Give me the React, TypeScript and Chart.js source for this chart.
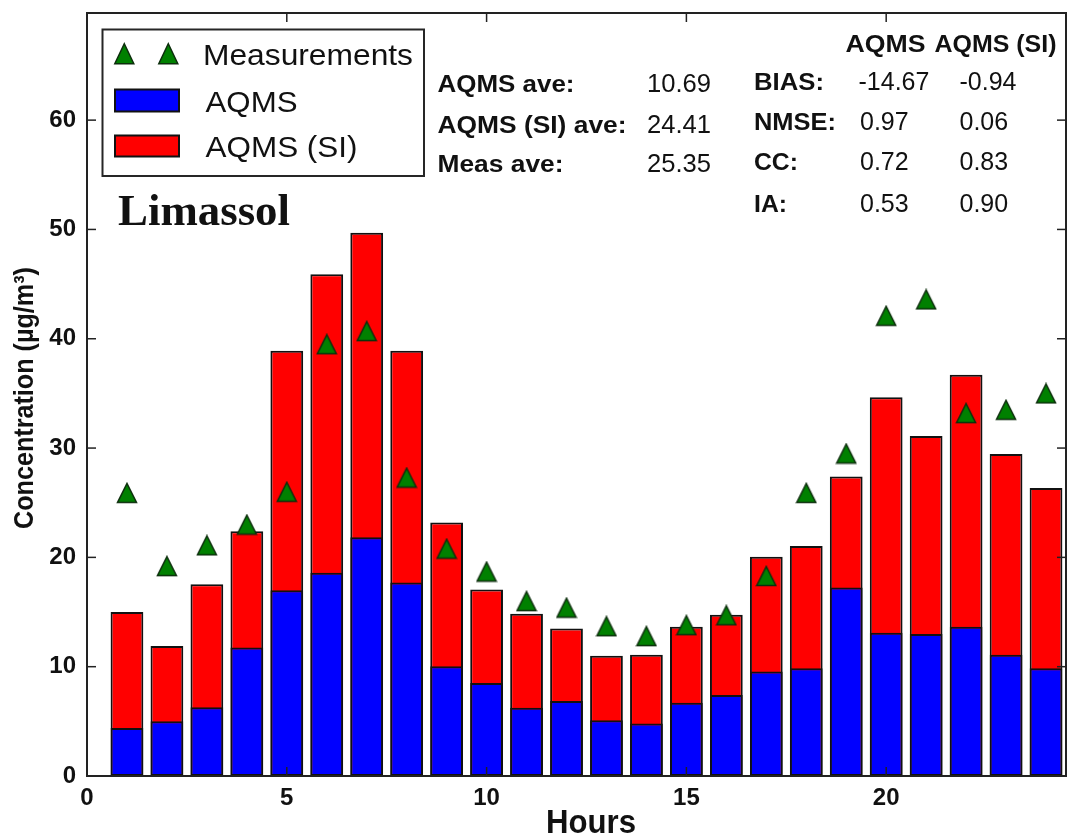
import React, { useEffect, useRef } from "react";
import { Chart, registerables } from "chart.js";

Chart.register(...registerables);

// ---- data ----
const hours = [1, 2, 3, 4, 5, 6, 7, 8, 9, 10, 11, 12, 13, 14, 15, 16, 17, 18, 19, 20, 21, 22, 23, 24];
const aqms = [4.4, 5.0, 6.3, 11.75, 17.0, 18.6, 21.85, 17.7, 10.05, 8.5, 6.25, 6.85, 5.1, 4.8, 6.7, 7.4, 9.55, 9.85, 17.25, 13.1, 13.0, 13.65, 11.1, 9.85];
const aqmsSI = [15.0, 11.9, 17.55, 22.4, 38.9, 45.9, 49.7, 38.9, 23.2, 17.05, 14.85, 13.5, 11.0, 11.1, 13.65, 14.75, 20.05, 21.05, 27.4, 34.65, 31.1, 36.7, 29.45, 26.35];
const measurements = [25.9, 19.2, 21.1, 23.0, 26.0, 39.5, 40.7, 27.3, 20.8, 18.7, 16.0, 15.4, 13.7, 12.8, 13.8, 14.7, 18.3, 25.9, 29.5, 42.1, 43.6, 33.2, 33.5, 35.0];

const xRange = [0, 24.5];
const yRange = [0, 69.8];
const xStep = 5;
const yStep = 10;

const seriesNames = ["Measurements", "AQMS", "AQMS (SI)"];
const stationName = "Limassol";
const xTitle = "Hours";
const yTitle = "Concentration (µg/m³)";

const aveLabels = ["AQMS ave:", "AQMS (SI) ave:", "Meas ave:"];
const aveValues = ["10.69", "24.41", "25.35"];
const statHeaders = ["AQMS", "AQMS (SI)"];
const statLabels = ["BIAS:", "NMSE:", "CC:", "IA:"];
const statAqms = ["-14.67", "0.97", "0.72", "0.53"];
const statAqmsSI = ["-0.94", "0.06", "0.83", "0.90"];

// ---- styles ----
const W = 1067;
const H = 835;
const SANS = "'Liberation Sans', Arial, Helvetica, sans-serif";
const SERIF = "'Liberation Serif', 'Times New Roman', serif";
const TXT = "#111";
const GREEN = "#008000";

function makeTriangle(): HTMLCanvasElement {
  const c = document.createElement("canvas");
  c.width = 22;
  c.height = 22;
  const g = c.getContext("2d")!;
  g.beginPath();
  g.moveTo(11, 1.5);
  g.lineTo(20.5, 20.5);
  g.lineTo(1.5, 20.5);
  g.closePath();
  g.fillStyle = GREEN;
  g.fill();
  g.lineWidth = 1.5;
  g.strokeStyle = "#0c2e0c";
  g.stroke();
  return c;
}

const framePlugin = {
  id: "frame",
  afterDraw(chart: any) {
    const { ctx, chartArea: a, scales } = chart;
    const L = 9;
    ctx.save();
    ctx.strokeStyle = "#222";
    ctx.lineWidth = 1.5;
    const line = (x1: number, y1: number, x2: number, y2: number) => {
      ctx.beginPath();
      ctx.moveTo(x1, y1);
      ctx.lineTo(x2, y2);
      ctx.stroke();
    };
    scales.x.ticks.forEach((t: any) => {
      const p = scales.x.getPixelForValue(t.value);
      line(p, a.bottom, p, a.bottom - L);
      line(p, a.top, p, a.top + L);
    });
    scales.y.ticks.forEach((t: any) => {
      const p = scales.y.getPixelForValue(t.value);
      line(a.left, p, a.left + L, p);
      line(a.right, p, a.right - L, p);
    });
    ctx.lineWidth = 2;
    ctx.strokeRect(a.left, a.top, a.right - a.left, a.bottom - a.top);
    ctx.restore();
  },
};

function ChartCanvas() {
  const ref = useRef<HTMLCanvasElement | null>(null);
  useEffect(() => {
    if (!ref.current) return;
    const tri = makeTriangle();
    const chart = new Chart(ref.current, {
      type: "bar",
      data: {
        datasets: [
          {
            type: "line",
            label: seriesNames[0],
            data: hours.map((h, i) => ({ x: h, y: measurements[i] })),
            showLine: false,
            pointStyle: tri as any,
            pointRadius: 10,
            order: 0,
          } as any,
          {
            type: "bar",
            label: seriesNames[1],
            data: hours.map((h, i) => ({ x: h, y: aqms[i] })),
            backgroundColor: "#0000ff",
            borderColor: "#111",
            borderWidth: 2,
            borderSkipped: false,
            grouped: false,
            barPercentage: 0.82,
            categoryPercentage: 1,
            order: 1,
          },
          {
            type: "bar",
            label: seriesNames[2],
            data: hours.map((h, i) => ({ x: h, y: aqmsSI[i] })),
            backgroundColor: "#ff0000",
            borderColor: "#111",
            borderWidth: 2,
            borderSkipped: false,
            grouped: false,
            barPercentage: 0.82,
            categoryPercentage: 1,
            order: 2,
          },
        ],
      },
      options: {
        responsive: false,
        animation: false,
        devicePixelRatio: 1,
        layout: { autoPadding: false, padding: { top: 13, right: 1, left: 0, bottom: 0 } },
        plugins: {
          legend: { display: false },
          tooltip: { enabled: false },
          title: { display: false },
        },
        scales: {
          x: {
            type: "linear",
            min: xRange[0],
            max: xRange[1],
            offset: false,
            grid: { display: false, drawTicks: false },
            border: { display: false },
            ticks: {
              stepSize: xStep,
              includeBounds: false,
              padding: 8,
              color: TXT,
              font: { family: SANS, size: 24, weight: "bold" },
              maxRotation: 0,
            },
            afterFit: (s: any) => {
              s.height = 59;
              s.paddingLeft = 0;
              s.paddingRight = 0;
            },
          },
          y: {
            type: "linear",
            min: yRange[0],
            max: yRange[1],
            grid: { display: false, drawTicks: false },
            border: { display: false },
            ticks: {
              stepSize: yStep,
              includeBounds: false,
              padding: 11,
              color: TXT,
              font: { family: SANS, size: 24, weight: "bold" },
            },
            afterFit: (s: any) => {
              s.width = 87;
              s.paddingTop = 0;
              s.paddingBottom = 0;
            },
          },
        },
      },
      plugins: [framePlugin],
    });
    return () => chart.destroy();
  }, []);
  return <canvas ref={ref} width={W} height={H} style={{ display: "block", width: W, height: H }} />;
}

type T = { x: number; y: number; s: string; size: number; bold?: boolean; len?: number; serif?: boolean };

function SvgText({ x, y, s, size, bold, len, serif }: T) {
  return (
    <text
      x={x}
      y={y}
      fontFamily={serif ? SERIF : SANS}
      fontSize={size}
      fontWeight={bold ? "bold" : "normal"}
      fill={TXT}
      textLength={len}
      lengthAdjust={len ? "spacingAndGlyphs" : undefined}
    >
      {s}
    </text>
  );
}

function tri(cx: number, cy: number) {
  return `${cx},${cy - 10} ${cx + 9.5},${cy + 10} ${cx - 9.5},${cy + 10}`;
}

export default function App() {
  const aveY = [91.7, 133.3, 171.7];
  const aveLen = [137, 189, 126];
  const statY = [90, 130, 170, 211.5];
  const statLen = [70, 82, 44, 33];
  return (
    <div style={{ position: "absolute", left: 0, top: 0, width: W, height: H, background: "#fff", overflow: "hidden" }}>
      <ChartCanvas />
      <svg
        width={W}
        height={H}
        style={{ position: "absolute", left: 0, top: 0, pointerEvents: "none" }}
      >
        {/* legend */}
        <rect x={102.5} y={29.5} width={321.5} height={146.5} fill="#fff" stroke="#262626" strokeWidth={2} />
        <polygon points={tri(124.3, 53.7)} fill={GREEN} stroke="#0c2e0c" strokeWidth={1.5} />
        <polygon points={tri(168.3, 53.7)} fill={GREEN} stroke="#0c2e0c" strokeWidth={1.5} />
        <SvgText x={203} y={65} s={seriesNames[0]} size={30} len={210} />
        <rect x={115} y={89.5} width={64} height={22} fill="#0000ff" stroke="#111" strokeWidth={2} />
        <SvgText x={205.5} y={111.7} s={seriesNames[1]} size={30} len={92} />
        <rect x={115} y={135.5} width={64} height={21} fill="#ff0000" stroke="#111" strokeWidth={2} />
        <SvgText x={205.5} y={156.7} s={seriesNames[2]} size={30} len={152} />

        {/* station */}
        <SvgText x={118} y={225} s={stationName} size={44} bold serif len={172} />

        {/* averages */}
        {aveLabels.map((l, i) => (
          <SvgText key={"al" + i} x={437.5} y={aveY[i]} s={l} size={23} bold len={aveLen[i]} />
        ))}
        {aveValues.map((v, i) => (
          <SvgText key={"av" + i} x={647} y={aveY[i]} s={v} size={25} len={64} />
        ))}

        {/* statistics */}
        <SvgText x={845.5} y={51.7} s={statHeaders[0]} size={23} bold len={80} />
        <SvgText x={934.5} y={51.7} s={statHeaders[1]} size={23} bold len={122} />
        {statLabels.map((l, i) => (
          <SvgText key={"sl" + i} x={754} y={statY[i]} s={l} size={23} bold len={statLen[i]} />
        ))}
        {statAqms.map((v, i) => (
          <SvgText key={"sa" + i} x={i === 0 ? 858.5 : 860} y={statY[i]} s={v} size={25} />
        ))}
        {statAqmsSI.map((v, i) => (
          <SvgText key={"ss" + i} x={959.5} y={statY[i]} s={v} size={25} />
        ))}

        {/* axis titles */}
        <SvgText x={546} y={833} s={xTitle} size={34} bold len={90} />
        <text
          transform="translate(33,398) rotate(-90)"
          textAnchor="middle"
          fontFamily={SANS}
          fontSize={27}
          fontWeight="bold"
          fill={TXT}
          textLength={262}
          lengthAdjust="spacingAndGlyphs"
        >
          {yTitle}
        </text>
      </svg>
    </div>
  );
}
